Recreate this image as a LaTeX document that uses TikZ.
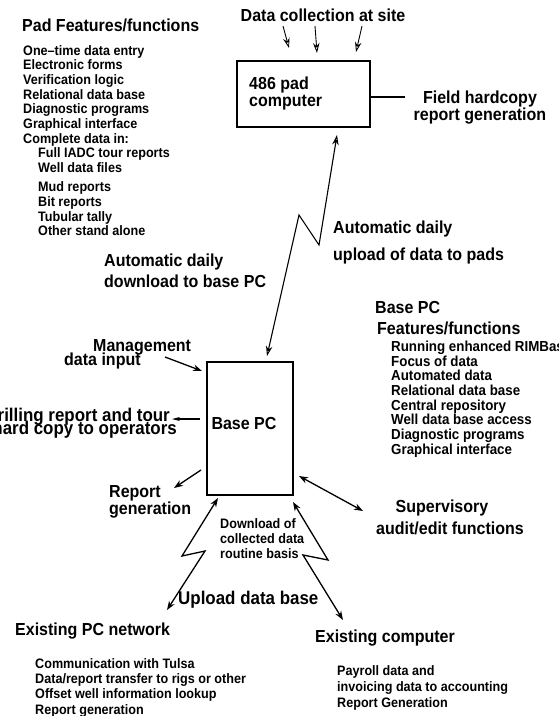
\documentclass[tikz,border=0pt]{standalone}
\usepackage{fontspec}
\setmainfont{Liberation Sans}[FakeStretch=0.92]
\usetikzlibrary{arrows.meta}
\begin{document}
\begin{tikzpicture}[x=1pt,y=-1pt,
  txt/.style={inner sep=0pt, align=left},
  big/.style={txt, font=\fontsize{17.4}{17}\selectfont\bfseries},
  bigger/.style={txt, font=\fontsize{18.4}{18}\selectfont\bfseries},
  small/.style={txt, font=\fontsize{13.7}{14.7}\selectfont\bfseries},
  box/.style={draw, line width=2pt, inner sep=0pt},
  arr/.style={line width=1.3pt, -{Stealth[length=9pt,width=6.5pt]}},
  dblarr/.style={line width=1.3pt, {Stealth[length=9pt,width=6.5pt]}-{Stealth[length=9pt,width=6.5pt]}},
  thinarr/.style={line width=1.1pt, -{Stealth[length=8pt,width=4pt]}},
  openarr/.style={line width=0.9pt, -{Stealth[open,length=10pt,width=6.5pt]}},
  openboth/.style={line width=1.1pt, {Stealth[open,length=10pt,width=6.5pt]}-{Stealth[open,length=10pt,width=6.5pt]}},
  plain/.style={line width=1.3pt}]
\useasboundingbox (0,0) rectangle (558,716);
\clip (0,0) rectangle (558,716);

% ---------- Pad features ----------
\node[big, anchor=base west] (padtitle) at (22,31.2) {Pad Features/functions};
\node[small, anchor=north west] (padlist) at (23,44.9) {One–time data entry\\
Electronic forms\\
Verification logic\\
Relational data base\\
Diagnostic programs\\
Graphical interface\\
Complete data in:\\
\hspace*{15pt}Full IADC tour reports\\
\hspace*{15pt}Well data files\\[4.3pt]
\hspace*{15pt}Mud reports\\
\hspace*{15pt}Bit reports\\
\hspace*{15pt}Tubular tally\\
\hspace*{15pt}Other stand alone};

% ---------- 486 pad computer ----------
\node[big, anchor=base] (dcs) at (323,21.2) {Data collection at site};
\coordinate (c1s) at (283,26); \coordinate (c1e) at (289,48);
\coordinate (c2s) at (315,26); \coordinate (c2e) at (317,53);
\coordinate (c3s) at (362,26); \coordinate (c3e) at (356,52);
\draw[openarr] (c1s) -- (c1e);
\draw[openarr] (c2s) -- (c2e);
\draw[openarr] (c3s) -- (c3e);

\node[box, minimum width=133pt, minimum height=66pt] (pad) at (303.5,94) {};
\node[big, anchor=north west] (padtxt) at (249,76.5) {486 pad\\computer};
\coordinate (fhend) at (405,97);
\draw[plain] (pad.east |- fhend) -- (fhend);
\node[big, align=center, anchor=north, font=\fontsize{17.4}{16}\selectfont\bfseries] (fhtxt) at (480,90.5) {Field hardcopy\\report generation};

% ---------- zigzag pad <-> base ----------
\coordinate (dltip) at (267,356);
\coordinate (zA) at (299,215);
\coordinate (zB) at (319,245);
\coordinate (ultip) at (337,135);
\draw[openboth] (dltip) -- (zA) -- (zB) -- (ultip);
\node[big, anchor=north west, font=\fontsize{17.4}{27}\selectfont\bfseries] (upl) at (333,220.5) {Automatic daily\\upload of data to pads};
\node[big, anchor=north west, font=\fontsize{17.4}{21}\selectfont\bfseries] (dnl) at (104,253.5) {Automatic daily\\download to base PC};

% ---------- Base PC ----------
\node[box, minimum width=86pt, minimum height=133pt] (base) at (250,428.5) {};
\node[big, anchor=base] (basetxt) at (244,429.2) {Base PC};

\node[big, anchor=base west] (mg1) at (93,351.2) {Management};
\node[big, anchor=base west] (mg2) at (64,365.2) {data input};
\coordinate (mgs) at (165,357); \coordinate (mge) at (202,371);
\draw[arr] (mgs) -- (mge);

\node[bigger, anchor=base east] (dr1) at (170,421.6) {Drilling report and tour};
\node[bigger, anchor=base east] (dr2) at (177,434.6) {hard copy to operators};
\coordinate (drs) at (200,419); \coordinate (dre) at (172,419);
\draw[thinarr] (drs) -- (dre);

\node[big, anchor=north west, font=\fontsize{17.4}{14}\selectfont\bfseries] (rep) at (109,485.5) {Report\\generation};
\coordinate (reps) at (201,470); \coordinate (repe) at (174,488);
\draw[arr] (reps) -- (repe);

\coordinate (sups) at (299,476); \coordinate (supe) at (363,511);
\draw[dblarr] (sups) -- (supe);
\node[big, anchor=base] (sup1) at (442,512.2) {Supervisory};
\node[big, anchor=base] (sup2) at (450,534.2) {audit/edit functions};

% ---------- Base PC features ----------
\node[big, anchor=base west] (bf1) at (375,313.2) {Base PC};
\node[big, anchor=base west] (bf2) at (377,334.2) {Features/functions};
\node[txt, anchor=north west, font=\fontsize{14.5}{14.7}\selectfont\bfseries] (bflist) at (391,340.6) {Running enhanced RIMBase\\
Focus of data\\
Automated data\\
Relational data base\\
Central repository\\
Well data base access\\
Diagnostic programs\\
Graphical interface};

% ---------- lower zigzags ----------
\coordinate (lt) at (218,498); \coordinate (l1) at (182,556);
\coordinate (l2) at (205,551); \coordinate (lb) at (167,610);
\draw[dblarr] (lt) -- (l1) -- (l2) -- (lb);
\coordinate (rt) at (293,502); \coordinate (r1) at (328,560);
\coordinate (r2) at (303,555); \coordinate (rb) at (343,620);
\draw[dblarr] (rt) -- (r1) -- (r2) -- (rb);

\node[small, anchor=north west, font=\fontsize{13.7}{15}\selectfont\bfseries] (dlc) at (220,517.9) {Download of\\collected data\\routine basis};
\node[bigger, anchor=base west] (upd) at (178,604.6) {Upload data base};

\node[big, anchor=base west] (epc) at (15,635.2) {Existing PC network};
\node[small, anchor=north west, font=\fontsize{13.7}{15}\selectfont\bfseries] (epclist) at (35,657.9) {Communication with Tulsa\\
Data/report transfer to rigs or other\\
Offset well information lookup\\[1pt]
Report generation};

\node[big, anchor=base west] (ec) at (315,642.2) {Existing computer};
\node[small, anchor=north west, font=\fontsize{13.7}{16}\selectfont\bfseries] (eclist) at (337,664.9) {Payroll data and\\
invoicing data to accounting\\
Report Generation};
\end{tikzpicture}
\end{document}
